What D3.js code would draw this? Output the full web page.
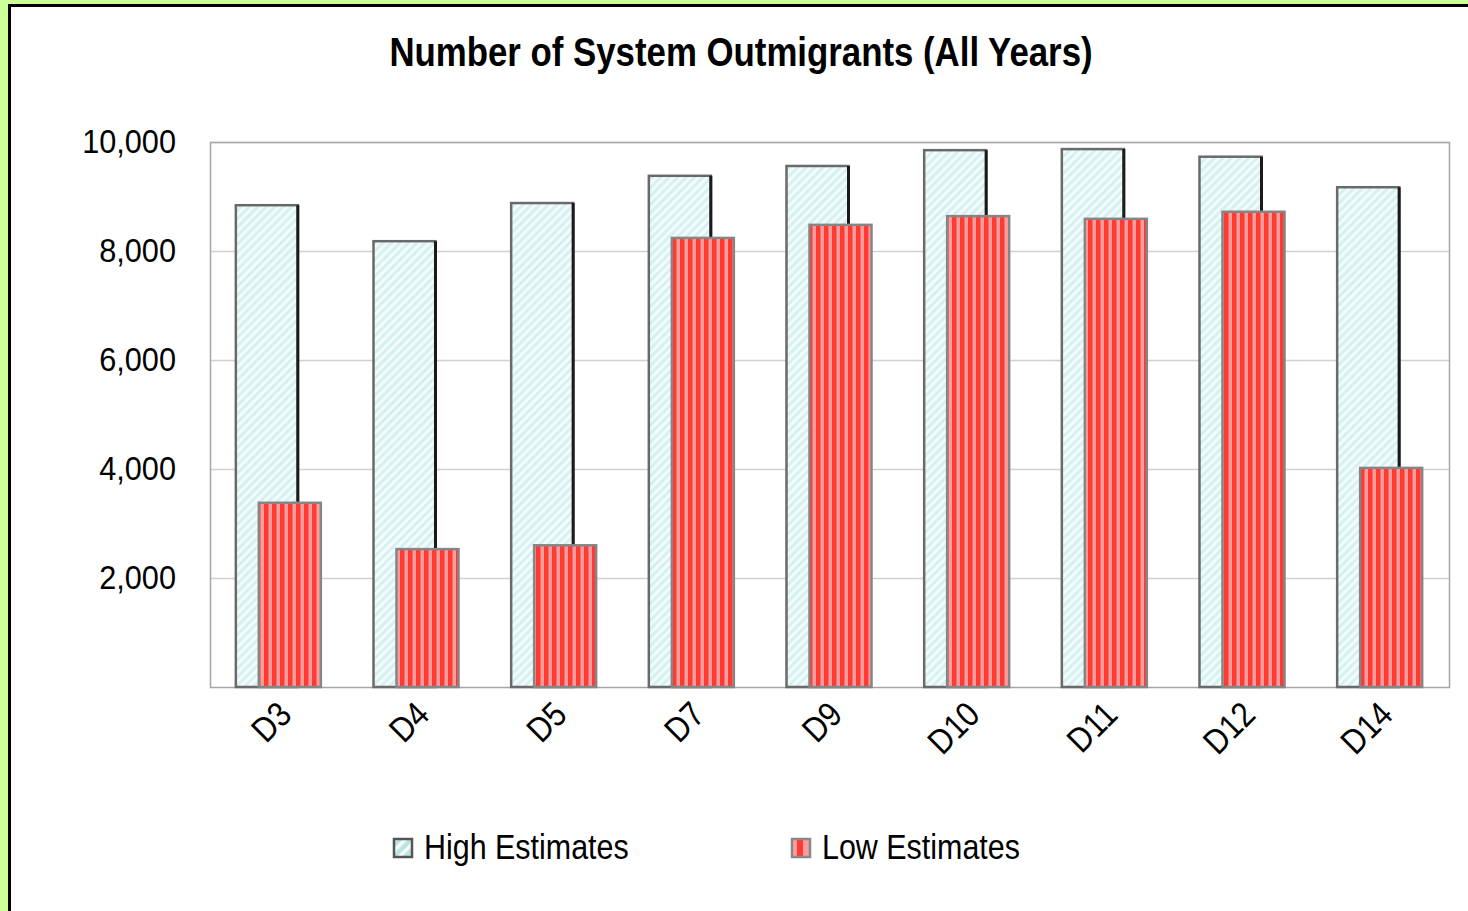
<!DOCTYPE html>
<html>
<head>
<meta charset="utf-8">
<script src="https://cdn.jsdelivr.net/npm/d3@7"></script>
<style>
  body { margin: 0; background: #ccff99; }
  svg { display: block; }
  text { font-family: "Liberation Sans", Arial, sans-serif; fill: #000; }
</style>
</head>
<body>
<svg id="chart" width="1468" height="911"></svg>
<script>
// chart data
const categories = ['D3', 'D4', 'D5', 'D7', 'D9', 'D10', 'D11', 'D12', 'D14'];
const highEstimates = [8840, 8180, 8880, 9380, 9560, 9850, 9870, 9730, 9170];
const lowEstimates = [3380, 2530, 2600, 8240, 8480, 8640, 8590, 8720, 4020];
const yTicks = [2000, 4000, 6000, 8000, 10000];
const seriesNames = ['High Estimates', 'Low Estimates'];

// no narrow font installed, so squeeze text horizontally
const narrow = 0.87;
const tickNarrow = 0.93;

const svg = d3.select('#chart');

// white panel with black frame
svg.append('rect')
    .attr('x', 9.5).attr('y', 5.5)
    .attr('width', 1470).attr('height', 920)
    .attr('fill', '#fff').attr('stroke', '#000').attr('stroke-width', 3);

// patterns
let defs = svg.append('defs');
let hatch = defs.append('pattern')
    .attr('id', 'hatch').attr('patternUnits', 'userSpaceOnUse')
    .attr('width', 6).attr('height', 6)
    .attr('patternTransform', 'rotate(45)');
hatch.append('rect').attr('width', 6).attr('height', 6).attr('fill', '#d6f1f0');
hatch.append('rect').attr('width', 3).attr('height', 6).attr('fill', '#f3fcfc');

let stripes = defs.append('pattern')
    .attr('id', 'stripes').attr('patternUnits', 'userSpaceOnUse')
    .attr('width', 8).attr('height', 8);
stripes.append('rect').attr('width', 8).attr('height', 8).attr('fill', '#ff9c9c');
stripes.append('rect').attr('width', 4.5).attr('height', 8).attr('fill', '#ff3a33');

let legendHatch = defs.append('pattern')
    .attr('id', 'legendHatch').attr('patternUnits', 'userSpaceOnUse')
    .attr('width', 8).attr('height', 8)
    .attr('patternTransform', 'rotate(45)');
legendHatch.append('rect').attr('width', 8).attr('height', 8).attr('fill', '#b9e6e4');
legendHatch.append('rect').attr('width', 3.5).attr('height', 8).attr('fill', '#f4fcfc');

let legendStripes = defs.append('pattern')
    .attr('id', 'legendStripes').attr('patternUnits', 'userSpaceOnUse')
    .attr('width', 12).attr('height', 12);
legendStripes.append('rect').attr('width', 12).attr('height', 12).attr('fill', '#ff3a33');
legendStripes.append('rect').attr('width', 6).attr('height', 12).attr('fill', '#ff9c9c');

// plot area
const plot = {left: 210, right: 1449, top: 142, bottom: 687};

let x = d3.scaleBand().domain(categories).range([plot.left, plot.right]);
let y = d3.scaleLinear().domain([0, 10000]).range([plot.bottom, plot.top]);

// title
svg.append('text')
    .attr('transform', `translate(741,66) scale(${narrow},1)`)
    .attr('text-anchor', 'middle')
    .style('font-size', '40px').style('font-weight', 'bold')
    .text('Number of System Outmigrants (All Years)');

// gridlines
svg.append('g').selectAll('line').data(yTicks).join('line')
    .attr('x1', plot.left).attr('x2', plot.right)
    .attr('y1', d => y(d) + 0.5).attr('y2', d => y(d) + 0.5)
    .attr('stroke', '#d0d0d0').attr('stroke-width', 1.5);

// plot frame
svg.append('rect')
    .attr('x', plot.left + 0.5).attr('y', plot.top + 0.5)
    .attr('width', plot.right - plot.left).attr('height', plot.bottom - plot.top)
    .attr('fill', 'none').attr('stroke', '#a6a6a6').attr('stroke-width', 1.5);

// y axis labels
let yAxis = d3.axisLeft(y).tickValues(yTicks).tickFormat(d3.format(',')).tickSize(0).tickPadding(34);
let yAxisG = svg.append('g').attr('transform', `translate(${plot.left},0)`).call(yAxis);
yAxisG.select('.domain').remove();
yAxisG.selectAll('text')
    .style('font-size', '33px')
    .style('font-family', '"Liberation Sans", Arial, sans-serif')
    .attr('transform', `scale(${tickNarrow},1)`)
    .attr('x', -34 / tickNarrow);

const barW = 62;
const highOff = -43;
const lowOff = -20;

// high bars
let highG = svg.append('g');
highG.selectAll('rect').data(categories).join('rect')
    .attr('x', (d, i) => x(d) + x.bandwidth() / 2 + highOff)
    .attr('y', (d, i) => y(highEstimates[i]))
    .attr('width', barW)
    .attr('height', (d, i) => y(0) - y(highEstimates[i]))
    .attr('fill', 'url(#hatch)')
    .attr('stroke', '#6a6a6a').attr('stroke-width', 2.5);
highG.selectAll('line').data(categories).join('line')
    .attr('x1', (d, i) => x(d) + x.bandwidth() / 2 + highOff + barW)
    .attr('x2', (d, i) => x(d) + x.bandwidth() / 2 + highOff + barW)
    .attr('y1', (d, i) => y(highEstimates[i]))
    .attr('y2', y(0))
    .attr('stroke', '#1a1a1a').attr('stroke-width', 3);

// low bars
svg.append('g').selectAll('rect').data(categories).join('rect')
    .attr('x', (d, i) => x(d) + x.bandwidth() / 2 + lowOff)
    .attr('y', (d, i) => y(lowEstimates[i]))
    .attr('width', barW)
    .attr('height', (d, i) => y(0) - y(lowEstimates[i]))
    .attr('fill', 'url(#stripes)')
    .attr('stroke', '#858585').attr('stroke-width', 2.5);

// x labels
svg.append('g').selectAll('text').data(categories).join('text')
    .attr('transform', d => `translate(${x(d) + x.bandwidth() / 2 + 6},708) rotate(-45) scale(${narrow},1)`)
    .attr('text-anchor', 'end')
    .attr('dy', '0.35em')
    .style('font-size', '35px')
    .text(d => d);

// legend
const legendItems = [
    {name: seriesNames[0], x: 393, fill: 'url(#legendHatch)', stroke: '#555'},
    {name: seriesNames[1], x: 791, fill: 'url(#legendStripes)', stroke: '#888'}
];
let legend = svg.append('g').selectAll('g').data(legendItems).join('g')
    .attr('transform', d => `translate(${d.x},838)`);
legend.append('rect')
    .attr('x', 1).attr('y', 1).attr('width', 18).attr('height', 18)
    .attr('fill', d => d.fill).attr('stroke', d => d.stroke).attr('stroke-width', 2.5);
legend.append('text')
    .attr('transform', `translate(31,21) scale(${narrow},1)`)
    .style('font-size', '35px')
    .text(d => d.name);
</script>
</body>
</html>
